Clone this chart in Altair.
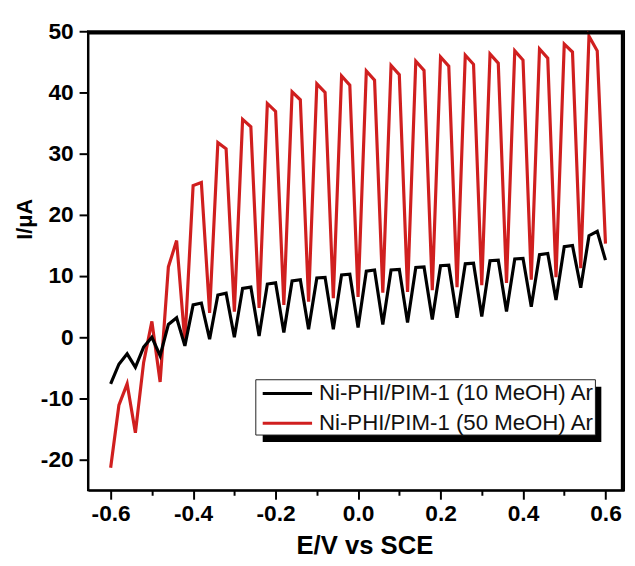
import altair as alt
import pandas as pd

# ---- data ----
potential = [-0.60, -0.58, -0.56, -0.54, -0.52, -0.50, -0.48, -0.46, -0.44, -0.42,
             -0.40, -0.38, -0.36, -0.34, -0.32, -0.30, -0.28, -0.26, -0.24, -0.22,
             -0.20, -0.18, -0.16, -0.14, -0.12, -0.10, -0.08, -0.06, -0.04, -0.02,
             0.00, 0.02, 0.04, 0.06, 0.08, 0.10, 0.12, 0.14, 0.16, 0.18,
             0.20, 0.22, 0.24, 0.26, 0.28, 0.30, 0.32, 0.34, 0.36, 0.38,
             0.40, 0.42, 0.44, 0.46, 0.48, 0.50, 0.52, 0.54, 0.56, 0.58, 0.60]

current_10 = [-7.6, -4.4, -2.7, -4.9, -1.6, 0.0, -3.0, 2.1, 3.2, -1.4,
              5.3, 5.6, -0.3, 6.9, 7.2, 0.0, 8.0, 8.2, 0.2, 8.7,
              8.9, 0.8, 9.2, 9.4, 1.3, 9.7, 9.8, 1.3, 10.2, 10.3,
              1.6, 10.8, 11.0, 2.1, 11.0, 11.1, 2.4, 11.4, 11.5, 2.9,
              11.7, 11.8, 3.2, 12.0, 12.1, 3.4, 12.5, 12.6, 4.2, 12.8,
              12.9, 5.0, 13.5, 13.7, 6.1, 14.8, 15.0, 8.1, 16.6, 17.3, 12.6]

current_50 = [-21.3, -11.1, -7.6, -15.6, -4.1, 2.6, -7.3, 11.5, 15.8, -0.8,
              24.8, 25.3, 4.0, 31.8, 30.8, 4.2, 35.6, 34.4, 4.8, 38.2,
              36.9, 5.3, 40.1, 38.8, 5.8, 41.4, 40.0, 6.4, 42.7, 41.2,
              6.6, 43.5, 42.0, 7.3, 44.4, 42.9, 7.4, 45.1, 43.6, 7.7,
              45.8, 44.3, 8.2, 46.1, 44.6, 8.5, 46.3, 44.8, 8.9, 46.8,
              45.3, 9.4, 47.1, 45.6, 9.8, 47.9, 46.6, 11.3, 49.2, 46.8, 15.3]

series_names = ["Ni-PHI/PIM-1 (10 MeOH) Ar", "Ni-PHI/PIM-1 (50 MeOH) Ar"]
series_colors = ["#000000", "#d01f1f"]

x_tick_values = [-0.6, -0.5, -0.4, -0.3, -0.2, -0.1, 0.0, 0.1, 0.2, 0.3, 0.4, 0.5, 0.6]
y_tick_values = [-20, -15, -10, -5, 0, 5, 10, 15, 20, 25, 30, 35, 40, 45, 50]

FONT = "Liberation Sans"
W, H = 543, 465

df10 = pd.DataFrame({"E": potential, "I": current_10, "order": list(range(len(potential)))})
df50 = pd.DataFrame({"E": potential, "I": current_50, "order": list(range(len(potential)))})

x_enc = alt.X(
    "E:Q",
    scale=alt.Scale(domain=[-0.655, 0.645], nice=False, zero=False),
    axis=alt.Axis(
        values=x_tick_values,
        labelExpr="abs(round(datum.value*10)) % 2 == 0 ? (datum.value < -0.001 ? '-' : '') + format(abs(datum.value), '.1f') : ''",
        tickSize={"condition": {"test": "abs(round(datum.value*10)) % 2 == 0", "value": 9}, "value": 5},
        labelFont=FONT, labelFontSize=23, labelFontWeight="bold", labelColor="#000",
        labelPadding=4, labelFlush=False, labelOverlap=False,
        domainColor="#000", domainWidth=2, tickColor="#000", tickWidth=2,
        grid=False,
        title="E/V vs SCE", titleFont=FONT, titleFontSize=26, titleFontWeight="bold",
        titleColor="#000", titleX=280, titleY=64, titleBaseline="alphabetic", titleAlign="center",
    ),
)
y_enc = alt.Y(
    "I:Q",
    scale=alt.Scale(domain=[-25, 50], nice=False, zero=False),
    axis=alt.Axis(
        values=y_tick_values,
        labelExpr="datum.value % 10 == 0 ? (datum.value < 0 ? '-' : '') + format(abs(datum.value), 'd') : ''",
        tickSize={"condition": {"test": "datum.value % 10 == 0", "value": 9}, "value": 5},
        labelFont=FONT, labelFontSize=23, labelFontWeight="bold", labelColor="#000",
        labelPadding=6, labelFlush=False, labelOverlap=False,
        domainColor="#000", domainWidth=2, tickColor="#000", tickWidth=2,
        grid=False,
        title="I/μA", titleFont=FONT, titleFontSize=22, titleFontWeight="bold",
        titleColor="#000", titleX=-64, titleY=190, titleAngle=270,
        titleBaseline="middle", titleAlign="center",
    ),
)

line50 = alt.Chart(df50).mark_line(color=series_colors[1], strokeWidth=3.2).encode(
    x=x_enc, y=y_enc, order="order:Q"
)
line10 = alt.Chart(df10).mark_line(color=series_colors[0], strokeWidth=3.2).encode(
    x="E:Q", y="I:Q", order="order:Q"
)

one = pd.DataFrame({"k": [0]})
# top and right sides of the frame, drawn just inside the plot edge
top_rule = alt.Chart(one).mark_rule(color="#000", strokeWidth=2.5).encode(
    x=alt.value(0), x2=alt.value(W - 1), y=alt.value(2)
)
right_rule = alt.Chart(one).mark_rule(color="#000", strokeWidth=2.5).encode(
    x=alt.value(W - 2), y=alt.value(1), y2=alt.value(H)
)
shadow = alt.Chart(one).mark_rect(fill="#000").encode(
    x=alt.value(177), x2=alt.value(520), y=alt.value(360), y2=alt.value(416)
)
box = alt.Chart(one).mark_rect(fill="white", stroke="#222", strokeWidth=1).encode(
    x=alt.value(170), x2=alt.value(514), y=alt.value(353), y2=alt.value(409)
)
leg_layers = []
for i, (name, col) in enumerate(zip(series_names, series_colors)):
    yy = 367 + 30 * i
    leg_layers.append(
        alt.Chart(one).mark_rule(color=col, strokeWidth=3).encode(
            x=alt.value(177), x2=alt.value(227), y=alt.value(yy)
        )
    )
    leg_layers.append(
        alt.Chart(one).mark_text(align="left", baseline="middle", font=FONT, fontSize=22.5, color="#111").encode(
            x=alt.value(234), y=alt.value(yy), text=alt.value(name)
        )
    )

chart = alt.layer(line50, line10, top_rule, right_rule, shadow, box, *leg_layers).properties(
    width=W, height=H,
    autosize=alt.AutoSizeParams(type="none"),
    padding={"left": 81, "top": 20, "right": 3, "bottom": 65},
    background="white",
).configure_view(stroke="#000", strokeWidth=2)

chart.save("out.html", embed_options={"renderer": "svg", "actions": False})
